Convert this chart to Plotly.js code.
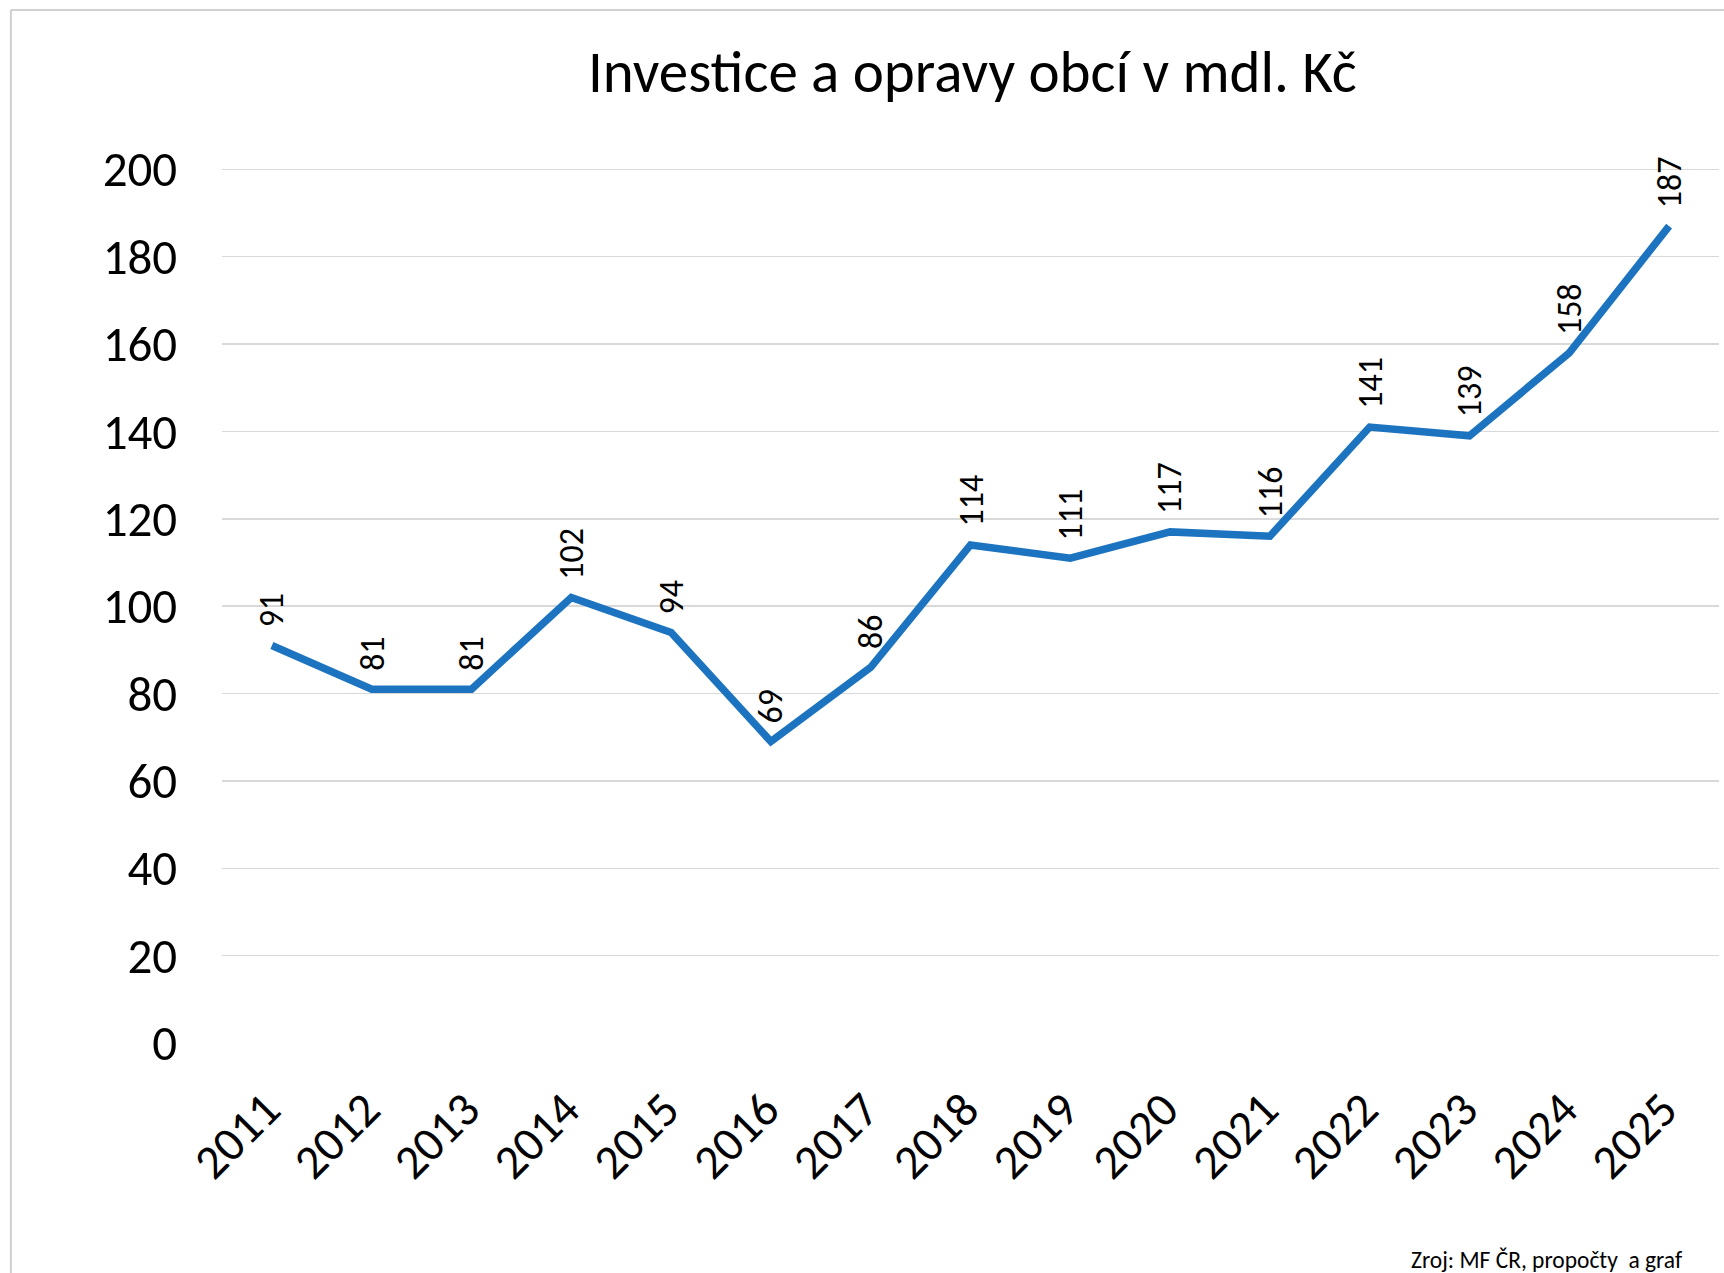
<!DOCTYPE html>
<html>
<head>
<meta charset="utf-8">
<script src="https://cdn.plot.ly/plotly-3.0.1.min.js"></script>
<style>html,body{margin:0;padding:0;background:#fff;}#chart{width:1724px;height:1273px;}</style>
</head>
<body>
<div id="chart"></div>
<script>
const years = ["2011","2012","2013","2014","2015","2016","2017","2018","2019","2020","2021","2022","2023","2024","2025"];
const values = [91, 81, 81, 102, 94, 69, 86, 114, 111, 117, 116, 141, 139, 158, 187];
const yTicks = [0, 20, 40, 60, 80, 100, 120, 140, 160, 180, 200];
const titleText = "Investice a opravy obcí v mdl. Kč";
const sourceText = "Zroj: MF ČR, propočty  a graf";

const FONT = "Carlito, Lato, 'Open Sans', sans-serif";

const trace = {
  x: years,
  y: values,
  type: "scatter",
  mode: "lines",
  line: {color: "#1c74c0", width: 7.5},
  hoverinfo: "skip"
};

const annotations = years.map((yr, i) => ({
  x: i, y: values[i], xref: "x", yref: "y",
  text: String(values[i]),
  textangle: -90,
  showarrow: false,
  xanchor: "center", yanchor: "bottom",
  yshift: 16,
  font: {family: FONT, size: 34, color: "#000"}
}));
annotations.push({
  xref: "paper", yref: "paper",
  x: 0.977, y: -0.248,
  xanchor: "right", yanchor: "middle",
  text: sourceText, showarrow: false,
  font: {family: FONT, size: 23.5, color: "#000"}
});

const layout = {
  width: 1724, height: 1273,
  margin: {l: 222, r: 5, t: 168, b: 230},
  paper_bgcolor: "#fff", plot_bgcolor: "#fff",
  showlegend: false,
  title: {
    text: titleText,
    font: {family: FONT, size: 59, color: "#000"},
    x: 0.564, xanchor: "center", xref: "container",
    y: 0.944, yanchor: "middle", yref: "container"
  },
  xaxis: {
    type: "category",
    tickangle: -45,
    tickfont: {family: FONT, size: 48, color: "#000"},
    showgrid: false, zeroline: false, showline: false,
    ticks: "outside", ticklen: 18, tickcolor: "rgba(0,0,0,0)",
    ticklabelshift: -6,
    range: [-0.5, 14.5]
  },
  yaxis: {
    range: [0, 200.3],
    tickvals: yTicks,
    ticktext: yTicks.map(String),
    tickfont: {family: FONT, size: 49, color: "#000"},
    showgrid: true, gridcolor: "#d9d9d9", gridwidth: 1.5,
    zeroline: false, showline: false,
    ticks: "outside", ticklen: 34, tickcolor: "rgba(0,0,0,0)"
  },
  shapes: [
    {type: "line", xref: "paper", yref: "paper", x0: -0.141, x1: 1.01, y0: 1.1805, y1: 1.1805, line: {color: "#d0d0d0", width: 2}},
    {type: "line", xref: "paper", yref: "paper", x0: -0.141, x1: -0.141, y0: 1.1805, y1: -0.3, line: {color: "#d0d0d0", width: 2}}
  ],
  annotations: annotations
};

Plotly.newPlot("chart", [trace], layout, {displayModeBar: false, staticPlot: true});
</script>
</body>
</html>
